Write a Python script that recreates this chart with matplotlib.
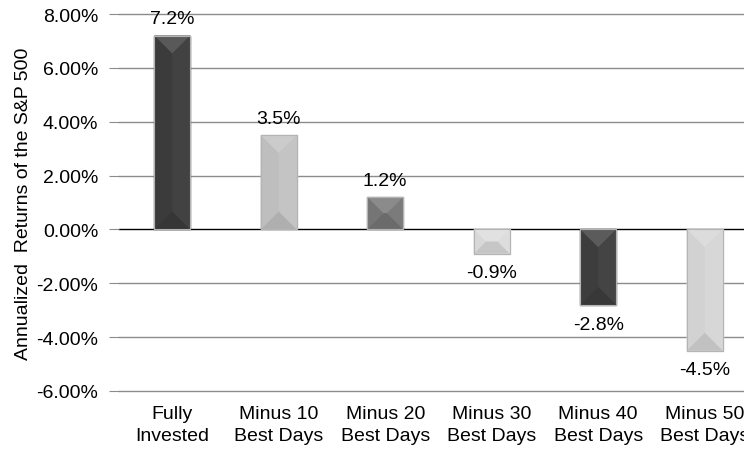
import numpy as np
import matplotlib.pyplot as plt
from matplotlib.colors import to_rgb

plt.rcParams['font.family'] = ['Liberation Sans', 'DejaVu Sans']

categories = ['Fully\nInvested', 'Minus 10\nBest Days', 'Minus 20\nBest Days',
              'Minus 30\nBest Days', 'Minus 40\nBest Days', 'Minus 50\nBest Days']
returns = [7.2, 3.5, 1.2, -0.9, -2.8, -4.5]
bar_colors = ['#3c3c3c', '#c2c2c2', '#777777', '#dcdcdc', '#3e3e3e', '#d6d6d6']
yticks = [-6, -4, -2, 0, 2, 4, 6, 8]


def shade(c, f):
    r = np.array(to_rgb(c))
    if f >= 1:
        r = r + (1 - r) * (f - 1)
    else:
        r = r * f
    return tuple(np.clip(r, 0, 1))


W, H = 744, 456
fs = 14
fig = plt.figure(figsize=(W / 100, H / 100), dpi=100)
left, right = 119 / W, 758 / W
bottom, top = (H - 392) / H, (H - 15) / H
ax = fig.add_axes([left, bottom, right - left, top - bottom])

x = np.arange(len(returns))
width = 0.34
ax.set_xlim(-0.5, len(returns) - 0.5)
ax.set_ylim(-6, 8)

# gridlines
for t in yticks:
    ax.axhline(t, color='black' if t == 0 else '#8c8c8c', lw=1.0, zorder=1, clip_on=False)

# bevelled bars
px_x = (right - left) * W / (len(returns))
px_y = (top - bottom) * H / 14.0
for xi, v, c in zip(x, returns, bar_colors):
    x0, x1 = xi - width / 2, xi + width / 2
    y0, y1 = min(0, v), max(0, v)
    half_px = width / 2 * px_x
    dy = min(half_px / px_y, (y1 - y0) / 2)
    dx = min(width / 2, dy * px_y / px_x)
    xm0, xm1 = x0 + dx, x1 - dx
    ax.fill([x0, x1, x1, x0], [y0, y0, y1, y1], color=shade(c, 1.0), zorder=2)
    # top
    ax.fill([x0, x1, xm1, xm0], [y1, y1, y1 - dy, y1 - dy], color=shade(c, 1.15), zorder=3, lw=0)
    # bottom
    ax.fill([x0, x1, xm1, xm0], [y0, y0, y0 + dy, y0 + dy], color=shade(c, 0.9), zorder=3, lw=0)
    # left
    ax.fill([x0, xm0, xm0, x0], [y0, y0 + dy, y1 - dy, y1], color=shade(c, 0.98), zorder=3, lw=0)
    # right
    ax.fill([x1, xm1, xm1, x1], [y0, y0 + dy, y1 - dy, y1], color=shade(c, 1.03), zorder=3, lw=0)
    # centre strip
    ax.fill([xm0, xm1, xm1, xm0], [y0 + dy, y0 + dy, y1 - dy, y1 - dy], color=shade(c, 1.0), zorder=3, lw=0)
    ax.plot([x0, x1, x1, x0, x0], [y0, y0, y1, y1, y0], color='#b4b4b4', lw=0.8, zorder=4)
    if v >= 0:
        ax.text(xi, v + 0.3, f'{v:.1f}%', ha='center', va='bottom', fontsize=fs, zorder=5)
    else:
        ax.text(xi, v - 0.4, f'{v:.1f}%', ha='center', va='top', fontsize=fs, zorder=5)

ax.set_yticks(yticks)
ax.set_yticklabels([f'{t:.2f}%' for t in yticks], fontsize=fs)
ax.set_xticks(x)
ax.set_xticklabels(categories, fontsize=fs, linespacing=1.4)
ax.tick_params(axis='x', length=0, pad=10)
ax.tick_params(axis='y', length=7, color='#8c8c8c', pad=8)
for s in ax.spines.values():
    s.set_visible(False)
ax.set_ylabel('Annualized  Returns of the S&P 500', fontsize=fs, labelpad=3)

fig.savefig('out.png', dpi=100)
